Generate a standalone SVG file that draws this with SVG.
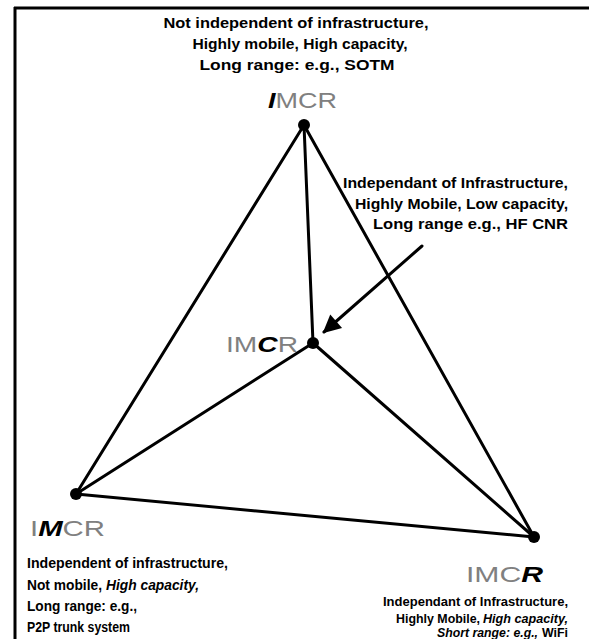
<svg xmlns="http://www.w3.org/2000/svg" width="589" height="639" viewBox="0 0 589 639">
<style>
.t{font-family:"Liberation Sans",Arial,sans-serif;font-weight:bold;font-size:14px;fill:#000}
.s{font-size:13px}
.lab{font-family:"Liberation Sans",Arial,sans-serif;font-size:22px;fill:#808080}
.em{fill:#000;font-weight:bold;font-style:italic}
.it{font-style:italic}
.ln{stroke:#000;stroke-width:3;fill:none;stroke-linecap:round}
.nd{fill:#000}
</style>
<defs>
<marker id="ah" viewBox="0 0 10 10" refX="9" refY="5" markerWidth="7" markerHeight="6" orient="auto" markerUnits="strokeWidth">
<path d="M0,0 L10,5 L0,10 z" fill="#000"/>
</marker>
</defs>
<g id="frame">
<line x1="14" y1="8" x2="589" y2="8" stroke="#000" stroke-width="3"/>
<line x1="15" y1="7" x2="15" y2="639" stroke="#000" stroke-width="3"/>
</g>
<g id="connectors">
<line class="ln" x1="304" y1="125" x2="76" y2="494"/>
<line class="ln" x1="304" y1="125" x2="534" y2="537"/>
<line class="ln" x1="304" y1="125" x2="313" y2="343"/>
<line class="ln" x1="313" y1="343" x2="76" y2="494"/>
<line class="ln" x1="313" y1="343" x2="534" y2="537"/>
<line class="ln" x1="76" y1="494" x2="534" y2="537"/>
<line class="ln" x1="422" y1="246" x2="324" y2="332" marker-end="url(#ah)"/>
</g>
<g id="node-top">
<circle class="nd" cx="304" cy="125" r="6"/>
<text class="lab" x="268" y="108" textLength="69" lengthAdjust="spacingAndGlyphs"><tspan class="em">I</tspan>MCR</text>
<text class="t" x="296" y="28" text-anchor="middle" textLength="265" lengthAdjust="spacingAndGlyphs">Not independent of infrastructure,</text>
<text class="t" x="300" y="49" text-anchor="middle" textLength="215" lengthAdjust="spacingAndGlyphs">Highly mobile, High capacity,</text>
<text class="t" x="297" y="70" text-anchor="middle" textLength="195" lengthAdjust="spacingAndGlyphs">Long range: e.g., SOTM</text>
</g>
<g id="node-center">
<circle class="nd" cx="313" cy="343" r="6"/>
<text class="lab" x="226" y="352" textLength="72" lengthAdjust="spacingAndGlyphs">IM<tspan class="em">C</tspan>R</text>
<text class="t" x="568" y="188" text-anchor="end" textLength="225" lengthAdjust="spacingAndGlyphs">Independant of Infrastructure,</text>
<text class="t" x="568" y="209" text-anchor="end" textLength="213" lengthAdjust="spacingAndGlyphs">Highly Mobile, Low capacity,</text>
<text class="t" x="568" y="229" text-anchor="end" textLength="195" lengthAdjust="spacingAndGlyphs">Long range e.g., HF CNR</text>
</g>
<g id="node-bl">
<circle class="nd" cx="76" cy="494" r="6"/>
<text class="lab" x="30" y="536" textLength="75" lengthAdjust="spacingAndGlyphs">I<tspan class="em">M</tspan>CR</text>
<text class="t" x="27" y="568" textLength="201" lengthAdjust="spacingAndGlyphs">Independent of infrastructure,</text>
<text class="t" x="27" y="590" textLength="75" lengthAdjust="spacingAndGlyphs">Not mobile,</text>
<text class="t it" x="106" y="590" textLength="93" lengthAdjust="spacingAndGlyphs">High capacity,</text>
<text class="t" x="27" y="611" textLength="110" lengthAdjust="spacingAndGlyphs">Long range: e.g.,</text>
<text class="t" x="27" y="632" textLength="103" lengthAdjust="spacingAndGlyphs">P2P trunk system</text>
</g>
<g id="node-br">
<circle class="nd" cx="534" cy="537" r="6"/>
<text class="lab" x="466" y="582" textLength="77" lengthAdjust="spacingAndGlyphs">IMC<tspan class="em">R</tspan></text>
<text class="t s" x="568" y="606" text-anchor="end" textLength="185" lengthAdjust="spacingAndGlyphs">Independant of Infrastructure,</text>
<text class="t s" x="396" y="623" textLength="84" lengthAdjust="spacingAndGlyphs">Highly Mobile,</text>
<text class="t s it" x="568" y="623" text-anchor="end" textLength="85" lengthAdjust="spacingAndGlyphs">High capacity,</text>
<text class="t s it" x="437" y="637" textLength="101" lengthAdjust="spacingAndGlyphs">Short range: e.g.,</text>
<text class="t s" x="568" y="637" text-anchor="end" textLength="26" lengthAdjust="spacingAndGlyphs">WiFi</text>
</g>
</svg>
